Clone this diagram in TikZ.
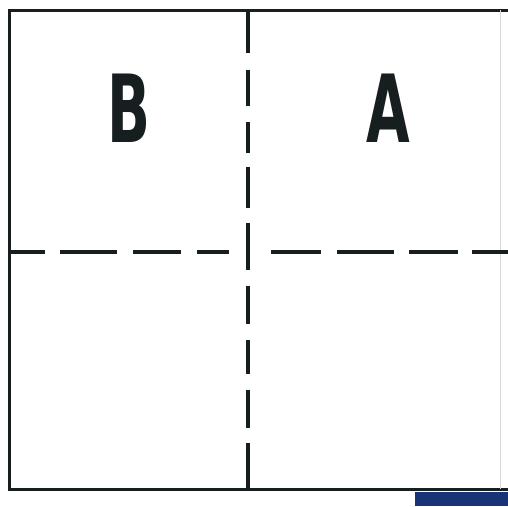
\documentclass[tikz,border=0pt]{standalone}
\usepackage{fontspec}
\usepackage{tikz}
\newfontfamily\letterfont{DejaVu Sans}
\definecolor{tinta}{RGB}{22,30,32}
\definecolor{barra}{RGB}{22,52,118}

\begin{document}
\begin{tikzpicture}[x=1pt, y=-1pt, line cap=butt,
  borde/.style={draw=tinta, line width=3pt},
  corte/.style={draw=tinta, line width=4pt},
  letra/.style={font=\letterfont\bfseries\fontsize{94}{94}\selectfont, text=tinta, xscale=0.6, inner sep=0pt}]
\useasboundingbox (0,0) rectangle (508,506);
\fill[white] (0,0) rectangle (508,506);
% marco
\coordinate (ul) at (9,10);
\coordinate (ur) at (508,10);
\coordinate (ll) at (9,489);
\coordinate (lr) at (508,489);
\draw[borde] (ur) -- (ul) -- (ll) -- (lr);
\draw[gray!30, line width=1pt] (500,10) -- (500,489);
% lineas de corte
\foreach \a/\b in {9/45, 60/117, 133/181, 197/229, 271/321, 337/394, 409/458, 472/508}
  \draw[corte] (\a,252) -- (\b,252);
\foreach \a/\b in {10/53, 70/106, 122/153, 167/208, 223/270, 286/324, 340/374, 390/428, 443/489}
  \draw[corte] (248,\a) -- (248,\b);
% etiquetas
\node[letra] (B) at (129,108) {B};
\node[letra] (A) at (388,108) {A};
\fill[barra] (415,492) rectangle (508,506);
\end{tikzpicture}
\end{document}
